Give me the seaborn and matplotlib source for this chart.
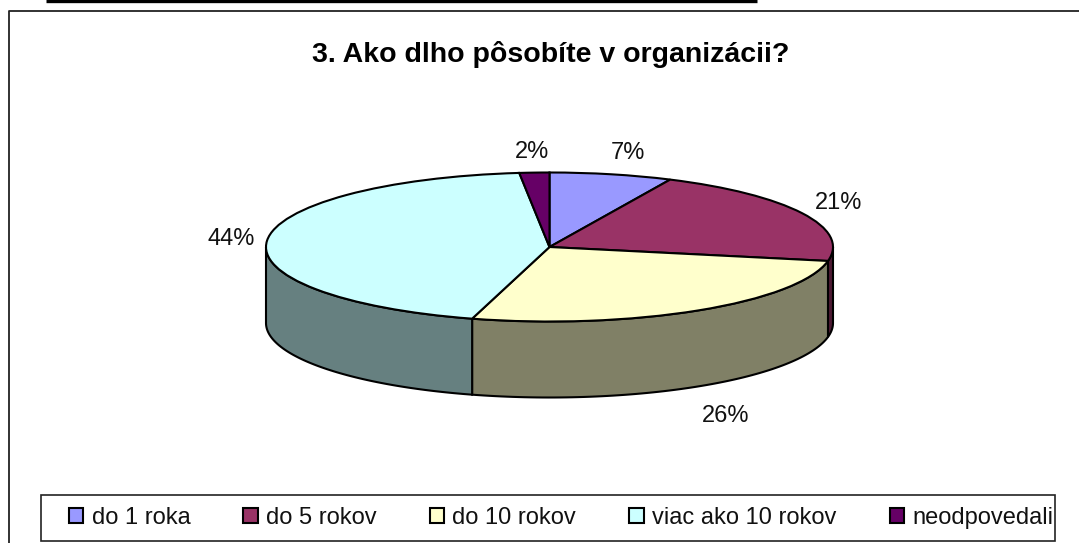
import numpy as np
import seaborn as sns
import matplotlib
matplotlib.use("Agg")
import matplotlib.pyplot as plt
from matplotlib.patches import Rectangle

title = "3. Ako dlho pôsobíte v organizácii?"
categories = ["do 1 roka", "do 5 rokov", "do 10 rokov", "viac ako 10 rokov", "neodpovedali"]
shares = [7.0, 21.0, 26.4, 43.9, 1.7]
topColors = ["#9999FF", "#993366", "#FFFFCC", "#CCFFFF", "#660066"]
wallColors = ["#4D4D80", "#4D1A33", "#808066", "#668080", "#330033"]

sns.set_theme(style="white")
plt.rcParams["font.family"] = ["Liberation Sans"]

W, H = 1079, 543
fig = plt.figure(figsize=(W / 100, H / 100), dpi=100, facecolor="white")

# pixel overlay for the frame, title and labels
bg = fig.add_axes([0, 0, 1, 1], zorder=3)
bg.set_xlim(0, W)
bg.set_ylim(H, 0)
bg.axis("off")
bg.plot([46, 757], [1, 1], color="black", lw=2.4, solid_capstyle="butt")
bg.plot([9, 9, W], [H, 11, 11], color="#222222", lw=1.3)
bg.text(551, 54.5, title, ha="center", va="center", fontsize=20.5, fontweight="bold", color="black")

# pie axes: unit circle squashed into the ellipse
cx, cy, rx, ry, depth = 549.5, 247, 283.5, 74.5, 76
pad = 4
left = cx - rx - pad
right = cx + rx + pad
top = cy - ry - pad
bottom = cy + ry + depth + pad
ax = fig.add_axes([left / W, 1 - bottom / H, (right - left) / W, (bottom - top) / H], zorder=2)
ax.patch.set_alpha(0)

ax.pie(shares, colors=sns.color_palette(topColors), startangle=90, counterclock=False,
       wedgeprops={"edgecolor": "black", "linewidth": 1.5, "zorder": 3})
ax.set_aspect("auto")
ax.set_xlim((left - cx) / rx, (right - cx) / rx)
ax.set_ylim((cy - bottom) / ry, (cy - top) / ry)

# side walls, only the part of each slice facing the viewer
h = depth / ry
ends = np.cumsum(shares) / sum(shares) * 360
starts = np.r_[0, ends[:-1]]
for a0, a1, col in zip(starts, ends, wallColors):
    lo, hi = max(a0, 90), min(a1, 270)
    if lo >= hi:
        continue
    t = np.radians(np.linspace(lo, hi, 80))
    xs, ys = np.sin(t), np.cos(t)
    ax.fill(np.r_[xs, xs[::-1]], np.r_[ys, ys[::-1] - h], facecolor=col, edgecolor="black",
            linewidth=1.5, zorder=2)

labelPos = [(628, 153), (839, 203), (726, 416), (231, 239), (532, 152)]
for val, (x, y) in zip(shares, labelPos):
    bg.text(x, y, f"{val:.0f}%", ha="center", va="center", fontsize=17, color="#111111")

# legend
bg.add_patch(Rectangle((41, 495), 1014, 46, facecolor="white", edgecolor="#222222", lw=1.2))
handles = [Rectangle((0, 0), 1, 1, facecolor=c, edgecolor="black", lw=1.5) for c in topColors]
leg = bg.legend(handles, categories, ncol=5, loc="center", bbox_to_anchor=(561 / W, 1 - 518 / H),
                bbox_transform=fig.transFigure, frameon=False, fontsize=17,
                handlelength=0.6, handleheight=0.6, handletextpad=0.36, columnspacing=2.25,
                labelcolor="#111111")

fig.savefig("out.png", dpi=100)
